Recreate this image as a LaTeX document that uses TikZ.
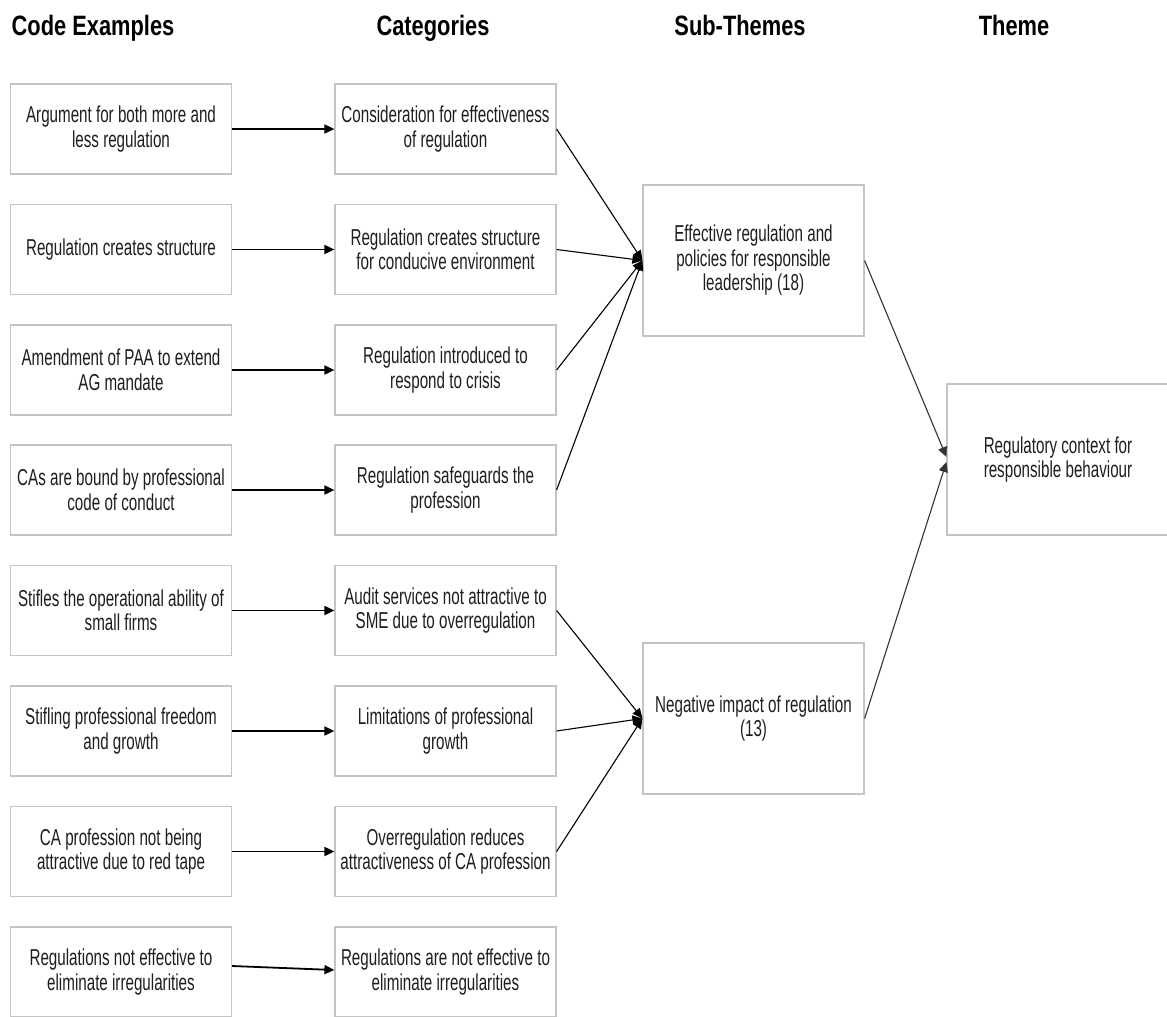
\documentclass[tikz,border=0pt]{standalone}
\usepackage{fontspec}
\usetikzlibrary{arrows.meta}
\newfontfamily\boxfont{Liberation Sans}[FakeStretch=0.66]
\newfontfamily\headfont{Liberation Sans}[FakeStretch=0.78]
\definecolor{boxgray}{HTML}{C4C4C4}
\definecolor{inkgray}{HTML}{1E1E1E}
\begin{document}
\begin{tikzpicture}[x=1pt, y=-1pt,
boxnode/.style={rectangle, draw=boxgray, line width=1.2pt, align=center, text=inkgray,
  font=\boxfont\fontsize{23}{24.5}\selectfont, minimum width=221pt, minimum height=90pt, inner sep=0pt},
bignode/.style={boxnode, minimum height=151pt},
headnode/.style={text=black, font=\headfont\bfseries\fontsize{28}{30}\selectfont, inner sep=0pt, anchor=base},
rowarrow/.style={-{Triangle[length=10pt, width=9pt]}, line width=1.8pt, black},
joinarrow/.style={-{Triangle[length=10pt, width=9pt]}, line width=1.1pt, black},
themearrow/.style={-{Triangle[length=10pt, width=9pt]}, line width=1.1pt, black!80},
]
\useasboundingbox (0,0) rectangle (1167,1017);
\fill[white] (0,0) rectangle (1167,1017);

%Headers
\node[headnode] (hcode)  at (93,35)   {Code Examples};
\node[headnode] (hcat)   at (433,35)  {Categories};
\node[headnode] (hsub)   at (740,35)  {Sub-Themes};
\node[headnode] (htheme) at (1014,35) {Theme};

%Code examples
\node[boxnode] (ex1) at (121,129)   {Argument for both more and\\less regulation};
\node[boxnode] (ex2) at (121,249.5) {Regulation creates structure};
\node[boxnode] (ex3) at (121,370)   {Amendment of PAA to extend\\AG mandate};
\node[boxnode] (ex4) at (121,490)   {CAs are bound by professional\\code of conduct};
\node[boxnode] (ex5) at (121,610.5) {Stifles the operational ability of\\small firms};
\node[boxnode] (ex6) at (121,731)   {Stifling professional freedom\\and growth};
\node[boxnode] (ex7) at (121,851.5) {CA profession not being\\attractive due to red tape};
\node[boxnode] (ex8) at (121,972)   {Regulations not effective to\\eliminate irregularities};

%Categories
\node[boxnode] (cat1) at (445.5,129)   {Consideration for effectiveness\\of regulation};
\node[boxnode] (cat2) at (445.5,249.5) {Regulation creates structure\\for conducive environment};
\node[boxnode] (cat3) at (445.5,370)   {Regulation introduced to\\respond to crisis};
\node[boxnode] (cat4) at (445.5,490)   {Regulation safeguards the\\profession};
\node[boxnode] (cat5) at (445.5,610.5) {Audit services not attractive to\\SME due to overregulation};
\node[boxnode] (cat6) at (445.5,731)   {Limitations of professional\\growth};
\node[boxnode] (cat7) at (445.5,851.5) {Overregulation reduces\\attractiveness of CA profession};
\node[boxnode] (cat8) at (445.5,972)   {Regulations are not effective to\\eliminate irregularities};

%Sub-themes and theme
\node[bignode] (sub1)  at (753.5,260.5) {Effective regulation and\\policies for responsible\\leadership (18)};
\node[bignode] (sub2)  at (753.5,718.5) {Negative impact of regulation\\(13)};
\node[bignode, minimum width=222pt] (theme) at (1058,459.5) {Regulatory context for\\responsible behaviour};

%Lines
\draw[rowarrow] (ex1.east) -- (cat1.west);
\draw[rowarrow] (ex2.east) -- (cat2.west);
\draw[rowarrow] (ex3.east) -- (cat3.west);
\draw[rowarrow] (ex4.east) -- (cat4.west);
\draw[rowarrow] (ex5.east) -- (cat5.west);
\draw[rowarrow] (ex6.east) -- (cat6.west);
\draw[rowarrow] (ex7.east) -- (cat7.west);
\draw[rowarrow] ([yshift=6pt]ex8.east) -- ([yshift=2pt]cat8.west);

\draw[joinarrow] (cat1.east) -- (sub1.west);
\draw[joinarrow] (cat2.east) -- (sub1.west);
\draw[joinarrow] (cat3.east) -- (sub1.west);
\draw[joinarrow] (cat4.east) -- (sub1.west);
\draw[joinarrow] (cat5.east) -- (sub2.west);
\draw[joinarrow] (cat6.east) -- (sub2.west);
\draw[joinarrow] (cat7.east) -- (sub2.west);

\draw[themearrow] (sub1.east) -- ([yshift=2.5pt]theme.west);
\draw[themearrow] (sub2.east) -- ([yshift=-2.5pt]theme.west);
\end{tikzpicture}
\end{document}
